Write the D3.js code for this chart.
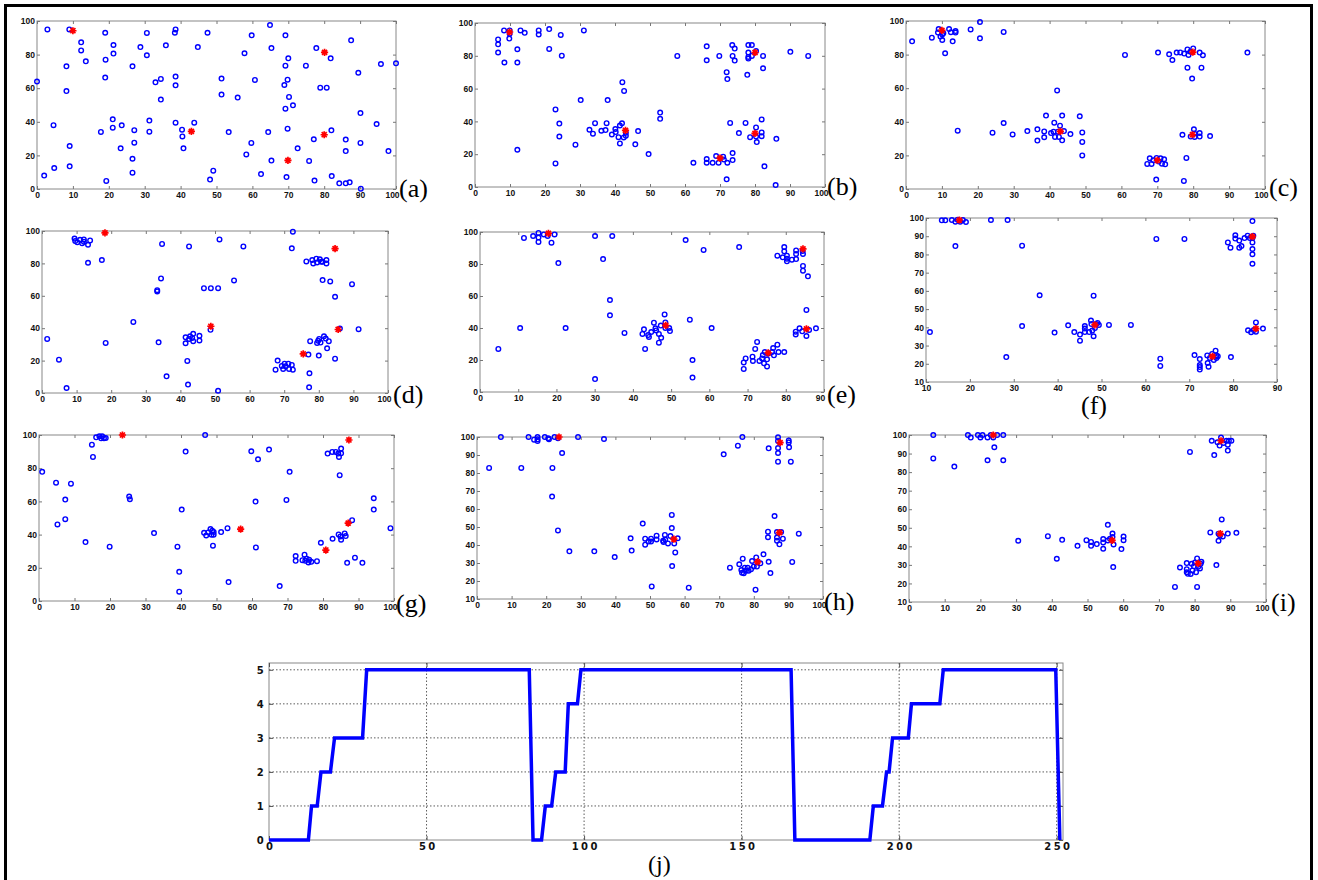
<!DOCTYPE html>
<html>
<head>
<meta charset="utf-8">
<script src="https://cdn.jsdelivr.net/npm/d3@7"></script>
<style>
  body { margin: 0; background: #fff; }
  svg { display: block; }
</style>
</head>
<body>
<svg id="fig" width="1318" height="880"></svg>
<script>
// ---- data: [x, y] of every blue circle and red star per panel ----
const ptsA = [[0,64],[2.9,95],[2,8],[4.6,38],[4.8,12.5],[8.2,73],[8.2,58.3],[9,95],[9.1,25.6],[9.1,13.5],
  [12.3,87.3],[12.3,82.5],[13.6,76],[17.8,34],[19,93],[19.1,77],[19,66.3],[19.3,4.8],[21.3,85.7],[21.3,80.6],
  [21.1,41.5],[21.1,36.5],[23.6,37.9],[23.3,24.2],[26.6,73],[26.6,18],[26.6,9.7],[27.1,35],[27.1,27.6],[28.8,84.5],
  [30.6,92.9],[30.6,79.6],[31.3,40.7],[31.3,34.1],[33,63.5],[34.5,65.5],[34.5,53.2],[35.9,85.5],[38.6,95],[38.4,93],
  [38.6,66.9],[38.6,61.7],[38.6,39.5],[40.4,35.3],[40.5,31.3],[40.8,24.2],[43.8,39.5],[44.8,84.5],[47.5,93],[48.2,5.6],
  [49.1,10.9],[51.4,65.7],[51.4,56.2],[53.4,33.9],[55.9,54.4],[57.8,80.8],[58.3,20.6],[59.8,91.5],[59.7,27.4],[60.7,64.9],
  [62.4,8.9],[64.4,33.9],[64.9,97.6],[65.3,83.9],[65.3,16.9],[69.2,91.5],[69.2,73.4],[68.9,61.9],[69.2,47.8],[69.5,7.1],
  [69.8,65.1],[70,77.8],[70.2,54.8],[69.8,35.9],[71.3,49.8],[72.6,24.2],[74.9,73.4],[75.8,16.7],[77.1,29.6],[77.3,5],
  [77.8,83.9],[78.9,60.3],[80.7,60.3],[81.8,77.8],[82,34.9],[82.1,7.7],[84.2,3.4],[86,29.4],[86,22.6],[86,3.4],
  [87.1,4],[87.5,88.5],[89.5,69.2],[90.1,45.2],[90.1,27.4],[90.2,0.2],[94.6,38.7],[95.8,74.4],[97.9,22.6],[100,74.8]];
const starsA = [[10,94.2],[43,34.3],[80.1,81.3],[80,32.3],[69.9,17]];

const ptsB = [[8.3,95.5],[9.9,95.5],[9.9,93.5],[9.8,90.5],[6.6,90],[6.6,87],[6.6,82],[8.4,75.9],[12.1,75.9],[12.1,84],
  [13,95.5],[14.2,94],[18.2,95.5],[18.2,93],[21.2,96.3],[21.2,84.2],[24.5,92.7],[24.8,80.1],[31.1,95.5],[12.1,22.7],
  [23,47.3],[24.1,38.7],[24.1,30.8],[23,14.4],[28.7,25.8],[30.2,53],[32.7,34.9],[33.7,32.5],[34.3,38.9],[36.1,34.3],
  [37.3,34.7],[37.6,38.9],[37.9,53],[39.1,32],[40.1,35.3],[40.2,33.5],[41,30.4],[41.4,37.5],[41.4,26.6],[42,38.8],
  [42.1,63.9],[42.6,58.6],[42.5,30.2],[43.1,33.1],[43.1,31.2],[45.8,26],[46.6,34.1],[49.6,20.1],[52.9,45.4],[52.9,41.6],
  [57.8,79.9],[62.4,14.8],[66.2,85.8],[66.2,77.3],[66.2,17],[66.2,14.8],[69.8,79.9],[67.9,14.8],[68.9,18.9],[69.6,14.8],
  [70.9,18.5],[71.1,16.8],[72.1,14.8],[71.9,70],[72.1,65.8],[71.9,4.7],[72.9,39.1],[73.5,86.6],[73.6,79.9],[74.2,84.4],
  [74.2,77.1],[73.6,20.7],[73.6,16.4],[75.4,32.9],[77.3,39.1],[77.8,68.4],[78.1,86.6],[78.1,82],[78.1,79.3],[78.1,78.3],
  [79.1,86.6],[79.1,79.9],[80.3,82.9],[80.3,36.3],[78.6,30.4],[80.3,30.8],[80.5,27.4],[81.9,41.2],[81.9,33.3],[81.9,31],
  [82.3,79.9],[82.3,72.4],[82.7,12.6],[86.1,29.4],[85.9,1.2],[90.1,82.4],[95.2,79.9]];
const starsB = [[9.9,94.5],[43,34.5],[80,82],[80,32.7],[70,17.6]];

const ptsC = [[1.7,87.9],[7.2,90.1],[8.9,93.1],[9.1,95.2],[9.6,90.7],[10.1,91.9],[10.1,88.7],[10.4,92.7],[10.9,80.8],[12,95.2],
  [12.5,93.3],[13,87.9],[13.8,94],[13.8,93.1],[14.4,34.7],[18,95],[20.6,99.4],[20.6,89.7],[24.1,33.5],[27.2,93.5],
  [27.2,39.3],[29.7,32.5],[33.8,34.5],[36.6,35.5],[36.6,28.8],[38.5,34.3],[38.5,30.8],[39,43.7],[40.4,33.3],[41.3,39.5],
  [41.1,34.1],[41.5,31],[42.1,58.7],[42.3,34.1],[42.6,31],[42.9,37.7],[43.5,43.7],[43.5,29],[44,34.5],[45.8,32.7],
  [48.4,43.3],[49.1,33.7],[49.1,28],[49.1,20],[61,79.8],[67.2,14.9],[67.9,18.3],[68.4,14.9],[68.9,17.1],[69.8,18.5],
  [70.4,16.3],[70.9,18.3],[71.3,15.1],[71.9,17.7],[72.2,14.7],[69.7,5.6],[70.2,81.2],[73.3,80.2],[74.2,76.8],[75.4,81.2],
  [76.4,81.3],[77,32.3],[77.5,80.6],[77.4,4.8],[78.1,18.5],[78.4,83.1],[78.4,72.2],[78.7,79.8],[79.2,81.7],[79.3,31.2],
  [79.7,65.7],[80,83.7],[80.2,35.5],[80.3,33.1],[80.4,31],[81.8,81.2],[81.8,33.3],[81.8,31.2],[82.3,72.2],[82.7,79.6],
  [84.7,31.5],[95.1,81.2]];
const starsC = [[10,94.4],[43,34.3],[79.9,81.5],[79.8,32.3],[70,17.1]];

const ptsD = [[1.5,33.4],[4.9,20.6],[7.1,3.1],[9.4,95.3],[9.6,93.8],[10.2,93],[11,94.6],[11.6,92.4],[12.1,94.8],[12.1,93.4],
  [13.3,91.5],[13.9,94.2],[13.3,80.4],[17.3,82.1],[18.4,30.9],[26.4,43.9],[33.3,62.7],[33.3,63.5],[33.7,31.3],[34.4,70.7],
  [34.7,92],[36,10.3],[41.5,34.4],[41.5,30.7],[42,19.8],[42.2,5.2],[42.5,90.5],[42.5,33.4],[42.8,35],[43.4,34],
  [43.7,36.5],[43.7,32],[45.5,35.3],[45.5,32.4],[46.8,64.7],[48.7,39],[48.8,64.7],[50.9,64.7],[50.9,1.4],[51.3,94.8],
  [55.5,69.5],[58.2,90.5],[67.5,14.4],[68.1,20],[69.3,16.7],[69.7,14.8],[70.1,18.1],[70.4,16.5],[71.2,18.1],[71.4,14.8],
  [72.2,17.3],[72.5,14.4],[72.2,89.3],[72.5,99.6],[76.4,81.2],[77,23.7],[77.3,12.2],[77.2,3.5],[77.5,32],[78.1,82.1],
  [78.4,80],[79.3,82.9],[79.5,80.6],[79.5,30.9],[79.8,32.2],[80,23.1],[80.1,33.4],[80.3,82.5],[80.5,31.1],[80.7,81],
  [81.1,69.7],[81.1,81],[81.5,35],[82,33.6],[82.2,82.1],[82.2,80],[82.4,27.6],[82.9,32],[83.3,68.9],[84.7,59.4],
  [84.7,21.2],[86.1,39.8],[89.6,67.2],[91.5,39.4]];
const starsD = [[18.2,98.8],[48.8,41.2],[84.7,89.1],[85.6,39.2],[75.5,24.1]];

const ptsE = [[4.8,26.9],[10.5,40],[11.5,96.3],[13.9,97.5],[15.3,99.4],[15.3,96.5],[15.3,93.8],[16.7,98.5],[17.7,97.5],[18.7,93.3],
  [19.5,98.5],[20.5,80.6],[22.4,40],[30.1,97.5],[30.1,8.1],[32.2,83.1],[34,57.5],[34,47.9],[34.6,97.5],[37.8,36.9],
  [42.5,36.3],[42.9,39.2],[43.2,26.9],[44,35.6],[44.2,34.4],[44.8,37.5],[45.5,43.3],[45.9,39.8],[46.1,38.5],[46.8,36.3],
  [46.8,30.8],[47.3,41.5],[47.4,33.9],[48.3,48.5],[48.5,43.5],[48.5,40],[49.5,40],[49.7,38.1],[53.8,95],[54.9,45.2],
  [55.6,20],[55.6,9],[58.5,88.8],[60.6,40],[67.8,90.6],[69,14.4],[69,18.5],[69.5,21],[71.3,22.1],[71.4,19.4],
  [72,26.9],[72.5,31.3],[73.1,19.4],[73.8,21],[74,23.1],[74.3,17.9],[74.5,25],[75.1,20.4],[75.1,16],[75.4,24],
  [76.4,25],[76.7,27.5],[76.9,22.9],[77.8,29.6],[78.1,25],[79.6,25],[77.8,85.2],[79.2,84.2],[79.6,90.6],[79.6,87.9],
  [80.3,85.2],[80.3,83.3],[80.3,81.7],[81.6,82.7],[82.7,88.5],[82.7,86.3],[82.7,83.1],[83.6,39.8],[82.6,37.7],[82.6,36],
  [84.4,88.1],[84.5,86.3],[84.5,78.8],[84.5,75.8],[84.3,37.9],[85.4,51.3],[85.4,35],[85.8,72.3],[86.1,38.8],[87.9,39.8]];
const starsE = [[17.9,99.2],[48.6,41.7],[84.5,89.4],[85.4,39.4],[75.4,24.4]];

const ptsF = [[10.9,37.4],[13.6,98.7],[14.4,98.7],[15.9,98.9],[16.7,98],[16.7,84.6],[17.2,99.1],[17.8,98],[18.4,98.9],[19.1,97.8],
  [24.8,98.9],[28.6,98.9],[28.3,23.7],[31.9,84.8],[31.9,40.7],[35.9,57.6],[39.3,37.1],[42.4,41.1],[43.8,37.4],[45.1,36],
  [45.1,32.7],[46.2,40.7],[46.2,39.3],[46.2,37.4],[47.2,37.4],[47.6,43.7],[47.7,41.8],[47.9,38.2],[48.2,35.1],[48.2,57.4],
  [48.5,39.6],[48.8,41.8],[49.1,42.4],[49.4,41.3],[51.7,41.3],[56.7,41.3],[62.5,88.5],[63.4,22.8],[63.4,18.8],[68.9,88.5],
  [71.2,24.8],[72.4,22.6],[72.4,19.3],[72.4,18.2],[72.4,16.8],[74.1,24.6],[74.2,20.4],[74.4,18.4],[74.7,23.2],[75.2,25.4],
  [75.6,22.1],[76,27.2],[76.2,24.6],[76.2,23.2],[76.5,24.1],[79.5,23.7],[78.8,86.6],[79.4,83.7],[80.5,90.5],[80.5,88.7],
  [81.4,87.6],[81.4,83.7],[81.9,84.6],[82.6,89],[83.3,90.3],[83.8,89],[84.4,98.3],[84.4,89],[84.4,86.6],[84.4,83],
  [84.4,80.1],[84.4,74.9],[84.6,90.3],[83.4,38.4],[84.1,37.3],[84.7,38.5],[85.2,42.7],[85.2,37.6],[86.8,39.3]];
const starsF = [[17.6,98.9],[48.5,41.3],[84.4,89.8],[85.2,39.3],[75.3,24.1]];

const ptsG = [[0.9,77.8],[4.8,71.3],[5.2,46.1],[7.4,61.1],[7.4,49.3],[9,70.7],[13.1,35.5],[14.9,94.2],[15.2,86.8],[16.1,98.6],
  [17,99.2],[17.5,98],[17.8,99.2],[18.3,98],[18.8,98.2],[19.9,32.7],[25.4,62.9],[25.6,61.3],[32.4,40.9],[39,32.7],
  [39.5,17.6],[39.5,5.6],[40.2,55.1],[41.3,90],[46.5,41.1],[46.8,100],[47.1,39.5],[47.7,41.3],[48.3,43.3],[48.6,39.9],
  [48.8,42.3],[49,33.3],[49.2,41.5],[49.2,39.9],[51.3,41.5],[53.1,43.9],[53.4,11.4],[59.8,90.2],[61,59.9],[61.1,32.3],
  [61.7,85.4],[64.8,91.2],[67.8,9],[69.7,60.9],[70.6,77.8],[72.3,27.1],[72.3,24.2],[74.2,24.6],[74.8,27.9],[75,24.2],
  [75.4,25.5],[75.9,23.2],[76.1,24.9],[76.7,23.6],[78.3,24],[79.4,35.1],[81.3,88.8],[82.6,89.8],[82.7,37.5],[83.6,89.8],
  [84.3,88.8],[84.5,86.8],[84.7,75.8],[84.4,40.1],[84.9,38.9],[85.1,89],[85.1,91.8],[85.1,36.9],[86.1,40.7],[86.4,39.1],
  [86.8,23],[88.2,48.7],[89,26.1],[91.1,23],[94.3,61.9],[94.3,55.1],[99,43.9]];
const starsG = [[23.5,100],[56.8,43.3],[87.3,97],[87.1,46.9],[80.8,30.7]];

const ptsH = [[3.5,82.8],[6.9,100],[12.8,82.8],[14.9,100],[16.5,98.5],[17.5,100],[17.5,98.7],[17.5,97.8],[19.6,100],[20.6,99.3],
  [20.8,98.7],[21.8,82.8],[21.7,66.9],[22.4,100],[23.4,99.3],[23.4,48.1],[24.6,91.1],[26.7,36.5],[29.2,100],[33.9,36.5],
  [36.7,98.9],[39.8,33.3],[44.4,43.7],[44.7,36.9],[47.9,51.9],[48.6,43.5],[48.6,40.2],[49.6,41.9],[50.3,43.5],[50.3,41.9],
  [50.5,17],[51.9,45.2],[51.9,43.1],[53.8,42.4],[53.9,41.7],[54.3,45.6],[54.4,43],[55.2,40.9],[55.9,45],[56.3,56.7],
  [56.3,49.4],[56.4,28.3],[57,40.9],[57.3,35.9],[58,43.7],[61.2,16.3],[71.3,90.4],[73.1,27.4],[75.4,95.2],[75.8,29.3],
  [76.4,26.1],[76.6,24.6],[76.7,100],[76.8,32.4],[77.1,24.3],[77.4,27.4],[77.7,25.7],[78.2,27.4],[78.5,25.7],[79.2,26.5],
  [79.5,31.1],[80,28],[80.5,15.2],[80.7,33.1],[80.9,28],[81.9,29.8],[82.8,34.8],[84.1,47.4],[84.1,44.3],[84.3,30.7],
  [84.3,93.7],[84.8,24.4],[86,56.1],[86.7,47.2],[86.7,44.1],[86.7,42.4],[87,99.8],[87,97.8],[87,93.9],[87,91.1],
  [87,86.3],[87.4,40.4],[87.9,47.2],[88.4,43.5],[90.1,98.1],[90.1,97],[90.2,94.3],[90.7,86.3],[91.1,30.6],[93,46.3]];
const starsH = [[23.7,100],[56.9,43.3],[87.6,96.9],[87.4,46.9],[81.1,30.6]];

const ptsI = [[6.8,100],[6.8,87.4],[12.7,83],[16.5,100],[17.3,98.6],[19.3,100],[20,98.7],[20.6,100],[22,98.7],[22,86.4],
  [22.9,100],[23.6,98.7],[23.9,93.4],[24.7,100],[26.4,100],[26.4,86.4],[30.6,43],[38.9,45.5],[41.4,33.3],[42.9,43.5],
  [47.2,40.3],[49.7,43.3],[51,42.4],[51,40.3],[52.6,41.2],[54.4,43.9],[54.4,42.1],[54.4,38.7],[55.7,51.6],[55.7,43.2],
  [56.3,44.1],[57,46.9],[57,45],[57.3,41],[57.2,28.8],[59.5,38.5],[60.1,45.3],[60.1,43.3],[74.5,18.1],[75.9,28.6],
  [77.8,31],[77.8,27.7],[77.8,26],[78.1,25.2],[78.7,90.9],[78.9,25.1],[79.2,30.6],[79.4,27],[79.8,29.2],[80.1,31.3],
  [80.4,26.1],[80.7,18.1],[80.7,33.5],[81,29],[81.5,28.1],[81.7,30.6],[81.9,31.7],[84.4,47.5],[84.8,96.9],[86.1,29.9],
  [86.4,96.1],[86.7,43],[86.7,46.8],[87,94.3],[87.1,45.9],[87.4,98.6],[87.6,54.5],[87.9,45.3],[88.1,95.7],[89.3,91.6],
  [89.3,94.8],[88.9,96.9],[89.6,96.9],[90.3,96.9],[85.5,89.2],[89.3,46.9],[91.7,47.3]];
const starsI = [[23.6,100],[56.9,43.2],[87.4,96.9],[87.2,46.9],[81,30.8]];

// panel (j): vertices of the step curve
const jT = [0,12.5,13.5,15.3,16.5,19.5,20.8,29.7,31,82.6,83.8,86.5,87.7,89.7,91,94,95,97.9,99,
  165.7,166.9,190.7,191.8,194.7,196,196.8,197.9,202.9,203.9,212.9,214,249.7,251];
const jV = [0,0,1,1,2,2,3,3,5,5,0,0,1,1,2,2,4,4,5,5,0,0,1,1,2,2,3,3,4,4,5,5,0];
const jXTicks = [0,50,100,150,200,250];
const jYTicks = [0,1,2,3,4,5];

const svg = d3.select("#fig");

// outer frame
svg.append("rect").attr("x", 5.5).attr("y", 5.5).attr("width", 1306).attr("height", 890)
  .attr("fill", "none").attr("stroke", "#000").attr("stroke-width", 3);

const panels = [
  {pts: ptsA, stars: starsA, l: 37, r: 396, t: 21, b: 189, xd: [0,100], yd: [0,100], ys: 20, lab: "(a)", lx: 399, ly: 197, side: true},
  {pts: ptsB, stars: starsB, l: 475, r: 825, t: 23, b: 187, xd: [0,100], yd: [0,100], ys: 20, lab: "(b)", lx: 827, ly: 195, side: true},
  {pts: ptsC, stars: starsC, l: 906, r: 1265, t: 21, b: 189, xd: [0,100], yd: [0,100], ys: 20, lab: "(c)", lx: 1269, ly: 196, side: true},
  {pts: ptsD, stars: starsD, l: 42, r: 388, t: 231, b: 393, xd: [0,100], yd: [0,100], ys: 20, lab: "(d)", lx: 393, ly: 403, side: true},
  {pts: ptsE, stars: starsE, l: 480, r: 824, t: 232, b: 392, xd: [0,90], yd: [0,100], ys: 20, lab: "(e)", lx: 827, ly: 403, side: true},
  {pts: ptsF, stars: starsF, l: 926, r: 1277, t: 218, b: 382, xd: [10,90], yd: [10,100], ys: 10, lab: "(f)", lx: 1081, ly: 414, side: false},
  {pts: ptsG, stars: starsG, l: 39, r: 394, t: 435, b: 601, xd: [0,100], yd: [0,100], ys: 20, lab: "(g)", lx: 396, ly: 612, side: true},
  {pts: ptsH, stars: starsH, l: 477, r: 823, t: 437, b: 599, xd: [0,100], yd: [10,100], ys: 10, lab: "(h)", lx: 824, ly: 610, side: true},
  {pts: ptsI, stars: starsI, l: 909, r: 1266, t: 435, b: 602, xd: [0,100], yd: [10,100], ys: 10, lab: "(i)", lx: 1271, ly: 611, side: true}
];

// MATLAB-like asterisk marker
function starPath(s) {
  const d = s * 0.7;
  return `M0,${-s}L0,${s}M${-s},0L${s},0M${-d},${-d}L${d},${d}M${-d},${d}L${d},${-d}`;
}

function styleAxis(g) {
  g.select(".domain").remove();
  g.attr("font-family", "'Liberation Sans', Arial, sans-serif")
    .attr("font-weight", "bold").attr("font-size", 8.5);
  g.selectAll(".tick line").attr("stroke", "#777");
  g.selectAll("text").attr("fill", "#111");
}

panels.forEach(p => {
  const x = d3.scaleLinear().domain(p.xd).range([p.l, p.r]);
  const y = d3.scaleLinear().domain(p.yd).range([p.b, p.t]);
  const xt = d3.range(p.xd[0], p.xd[1] + 0.1, 10);
  const yt = d3.range(p.yd[0], p.yd[1] + 0.1, p.ys);
  const g = svg.append("g");

  g.append("rect").attr("x", p.l).attr("y", p.t)
    .attr("width", p.r - p.l).attr("height", p.b - p.t)
    .attr("fill", "#fff").attr("stroke", "#888").attr("stroke-width", 1);

  const ax = g.append("g").attr("transform", `translate(0,${p.b})`)
    .call(d3.axisBottom(x).tickValues(xt).tickSize(-3).tickPadding(3).tickSizeOuter(0))
    .call(styleAxis);
  if (p.side) {
    ax.selectAll(".tick text").filter(d => d === p.xd[1]).attr("dx", -4);
  }
  g.append("g").attr("transform", `translate(0,${p.t})`)
    .call(d3.axisTop(x).tickValues(xt).tickSize(-3).tickFormat("").tickSizeOuter(0))
    .call(styleAxis);
  g.append("g").attr("transform", `translate(${p.l},0)`)
    .call(d3.axisLeft(y).tickValues(yt).tickSize(-3).tickPadding(2).tickSizeOuter(0))
    .call(styleAxis);
  g.append("g").attr("transform", `translate(${p.r},0)`)
    .call(d3.axisRight(y).tickValues(yt).tickSize(-3).tickFormat("").tickSizeOuter(0))
    .call(styleAxis);

  g.append("g").selectAll("circle").data(p.pts).join("circle")
    .attr("cx", d => x(d[0])).attr("cy", d => y(d[1])).attr("r", 2.3)
    .attr("fill", "none").attr("stroke", "#0000ff").attr("stroke-width", 1.4);

  g.append("g").selectAll("path").data(p.stars).join("path")
    .attr("transform", d => `translate(${x(d[0])},${y(d[1])})`)
    .attr("d", starPath(3.6))
    .attr("stroke", "#ff0000").attr("stroke-width", 1.7).attr("fill", "none");

  svg.append("text").attr("x", p.lx).attr("y", p.ly)
    .attr("font-family", "'Liberation Serif', 'Times New Roman', serif")
    .attr("font-size", 26).attr("fill", "#000").text(p.lab);
});

// ---- panel (j) ----
const jl = 269, jr = 1063, jt = 663, jb = 840;
const jx = d3.scaleLinear().domain([0, 252]).range([jl, jr]);
const jy = d3.scaleLinear().domain([0, 5.2]).range([jb, jt]);
const gj = svg.append("g");

gj.append("rect").attr("x", jl).attr("y", jt).attr("width", jr - jl).attr("height", jb - jt)
  .attr("fill", "#fff").attr("stroke", "#888");

gj.append("g").selectAll("line").data(jXTicks.filter(v => v > 0)).join("line")
  .attr("x1", d => jx(d)).attr("x2", d => jx(d)).attr("y1", jt).attr("y2", jb)
  .attr("stroke", "#333").attr("stroke-width", 0.8).attr("stroke-dasharray", "1.5,2");
gj.append("g").selectAll("line").data(jYTicks.filter(v => v > 0)).join("line")
  .attr("x1", jl).attr("x2", jr).attr("y1", d => jy(d)).attr("y2", d => jy(d))
  .attr("stroke", "#333").attr("stroke-width", 0.8).attr("stroke-dasharray", "1.5,2");

function styleJ(g) {
  g.select(".domain").remove();
  g.attr("font-family", "'DejaVu Sans', sans-serif").attr("font-weight", "bold").attr("font-size", 10);
  g.selectAll(".tick line").attr("stroke", "#555");
  g.selectAll("text").attr("fill", "#111").attr("letter-spacing", 2.4);
}
gj.append("g").attr("transform", `translate(0,${jb})`)
  .call(d3.axisBottom(jx).tickValues(jXTicks).tickFormat(d3.format("d")).tickSize(-4).tickPadding(3).tickSizeOuter(0))
  .call(styleJ).selectAll("text").attr("dx", 1.2);
gj.append("g").attr("transform", `translate(0,${jt})`)
  .call(d3.axisTop(jx).tickValues(jXTicks).tickSize(-4).tickFormat("").tickSizeOuter(0))
  .call(styleJ);
gj.append("g").attr("transform", `translate(${jl},0)`)
  .call(d3.axisLeft(jy).tickValues(jYTicks).tickFormat(d3.format("d")).tickSize(-4).tickPadding(3).tickSizeOuter(0))
  .call(styleJ);
gj.append("g").attr("transform", `translate(${jr},0)`)
  .call(d3.axisRight(jy).tickValues(jYTicks).tickSize(-4).tickFormat("").tickSizeOuter(0))
  .call(styleJ);

const jData = jT.map((t, i) => [t, jV[i]]);
gj.append("path").datum(jData)
  .attr("d", d3.line().x(d => jx(d[0])).y(d => jy(d[1])))
  .attr("fill", "none").attr("stroke", "#0000ff").attr("stroke-width", 3.5)
  .attr("stroke-linejoin", "miter");

svg.append("text").attr("x", 648).attr("y", 872)
  .attr("font-family", "'Liberation Serif', 'Times New Roman', serif")
  .attr("font-size", 24).attr("fill", "#000").text("(j)");
</script>
</body>
</html>
